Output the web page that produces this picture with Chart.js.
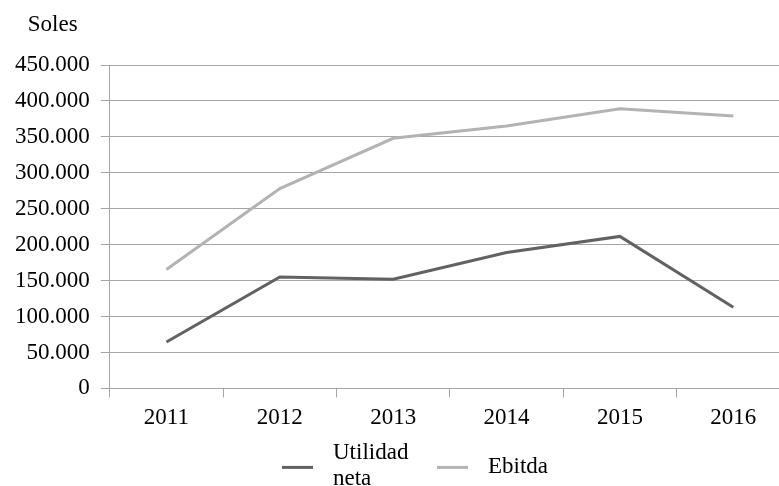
<!DOCTYPE html>
<html>
<head>
<meta charset="utf-8">
<script src="https://cdn.jsdelivr.net/npm/chart.js@4/dist/chart.umd.min.js"></script>
<style>
  html, body { margin: 0; padding: 0; background: #fff; overflow: hidden; }
  #wrap { position: relative; width: 792px; height: 486px; }
</style>
</head>
<body>
<div id="wrap"><canvas id="c"></canvas></div>
<script>
const categories = ['2011', '2012', '2013', '2014', '2015', '2016'];
const utilidadNeta = [64500, 155000, 152000, 189000, 211500, 113000];
const ebitda = [165500, 278000, 348000, 365000, 389000, 379000];
const seriesNames = [['Utilidad', 'neta'], 'Ebitda'];
const yTicks = [0, 50000, 100000, 150000, 200000, 250000, 300000, 350000, 400000, 450000];
const axisTitle = 'Soles';

const FONT = "'Liberation Serif', 'Times New Roman', serif";
const DARK = '#626262';
const LIGHT = '#b3b3b3';

function fmt(v) {
  if (v === 0) return '0';
  return String(v).replace(/\B(?=(\d{3})+(?!\d))/g, '.');
}

const decorPlugin = {
  id: 'decor',
  afterDraw(chart) {
    const ctx = chart.ctx;
    const ca = chart.chartArea;
    ctx.save();
    ctx.fillStyle = '#000';
    ctx.font = '23px ' + FONT;
    ctx.textBaseline = 'middle';
    ctx.textAlign = 'left';
    // axis title
    ctx.fillText(axisTitle, ca.left - 82, ca.top - 40);
    // legend
    const ds = chart.data.datasets;
    const legendY = ca.bottom + 79;
    let x = 282;
    ds.forEach((d, i) => {
      ctx.strokeStyle = d.borderColor;
      ctx.lineWidth = 3;
      ctx.beginPath();
      ctx.moveTo(x, legendY);
      ctx.lineTo(x + 31, legendY);
      ctx.stroke();
      const tx = x + 51;
      const lbl = seriesNames[i];
      if (Array.isArray(lbl)) {
        ctx.fillText(lbl[0], tx, legendY - 14);
        ctx.fillText(lbl[1], tx, legendY + 12);
        x = 437;
      } else {
        ctx.fillText(lbl, tx, legendY);
      }
    });
    ctx.restore();
  }
};

new Chart(document.getElementById('c'), {
  type: 'line',
  data: {
    labels: categories,
    datasets: [
      { label: 'Utilidad neta', data: utilidadNeta, borderColor: DARK, backgroundColor: DARK,
        borderWidth: 3, pointRadius: 0, tension: 0 },
      { label: 'Ebitda', data: ebitda, borderColor: LIGHT, backgroundColor: LIGHT,
        borderWidth: 3, pointRadius: 0, tension: 0 }
    ]
  },
  options: {
    responsive: true,
    maintainAspectRatio: false,
    animation: false,
    layout: { padding: { left: 4, top: 65, right: 2, bottom: 47 } },
    plugins: {
      legend: { display: false },
      tooltip: { enabled: false },
      title: { display: false }
    },
    scales: {
      x: {
        offset: true,
        grid: { offset: true, drawOnChartArea: false, drawTicks: true, tickLength: 9, color: '#a6a6a6', lineWidth: 1 },
        border: { display: true, color: '#a6a6a6', width: 1 },
        ticks: { color: '#000', font: { family: FONT, size: 23 }, padding: 7, maxRotation: 0, autoSkip: false }
      },
      y: {
        min: 0,
        max: 450000,
        afterBuildTicks(scale) { scale.ticks = yTicks.map(v => ({ value: v })); },
        grid: { color: '#a6a6a6', lineWidth: 1, drawTicks: true, tickLength: 9 },
        border: { display: true, color: '#a6a6a6', width: 1 },
        ticks: { color: '#000', font: { family: FONT, size: 23 }, padding: 11, callback: (v) => fmt(v) }
      }
    }
  },
  plugins: [decorPlugin]
});
</script>
</body>
</html>
